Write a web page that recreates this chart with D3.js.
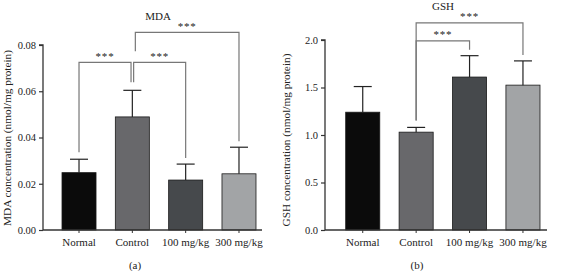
<!DOCTYPE html>
<html>
<head>
<meta charset="utf-8">
<script src="https://cdn.jsdelivr.net/npm/d3@7"></script>
<style>
	body { margin: 0; background: #fff; }
	svg text { font-family: "Liberation Serif", "DejaVu Serif", serif; fill: #222; }
</style>
</head>
<body>
<script>
// groups shared by both panels
const groups = ["Normal", "Control", "100 mg/kg", "300 mg/kg"];
const barColors = ["#0b0b0b", "#68686b", "#46494c", "#a2a4a6"];

// panel (a) MDA
const mdaMean = [0.0248, 0.0489, 0.0216, 0.0243];
const mdaErr = [0.0058, 0.0115, 0.0069, 0.0115];
const mdaTicks = [0, 0.02, 0.04, 0.06, 0.08];

// panel (b) GSH
const gshMean = [1.24, 1.03, 1.61, 1.525];
const gshErr = [0.27, 0.05, 0.225, 0.255];
const gshTicks = [0, 0.5, 1.0, 1.5, 2.0];

// significance brackets: [from, to, level (in y units), label]
const mdaSig = [["Normal", "Control", 0.0725, "***"], ["Control", "100 mg/kg", 0.0725, "***"], ["Control", "300 mg/kg", 0.0855, "***"]];
const gshSig = [["Control", "100 mg/kg", 1.99, "***"], ["Control", "300 mg/kg", 2.18, "***"]];

const svg = d3.select("body").append("svg")
	.attr("width", 561)
	.attr("height", 271);

function panel(opt) {
	let x = d3.scaleBand().domain(groups).range(opt.bars).paddingInner(0.362).paddingOuter(0);
	let y = d3.scaleLinear().domain(opt.domain).range([230, opt.top]);

	let g = svg.append("g");

	// bars
	g.selectAll("rect.bar")
		.data(groups)
		.join("rect")
			.attr("class", "bar")
			.attr("x", d => x(d))
			.attr("y", (d, i) => y(opt.mean[i]))
			.attr("width", x.bandwidth())
			.attr("height", (d, i) => y(0) - y(opt.mean[i]))
			.attr("fill", (d, i) => barColors[i])
			.attr("stroke", "#1a1a1a")
			.attr("stroke-width", 0.8);

	// error bars (upper only)
	let cx = d => x(d) + x.bandwidth() / 2;
	g.selectAll("line.err")
		.data(groups)
		.join("line")
			.attr("x1", cx).attr("x2", cx)
			.attr("y1", (d, i) => y(opt.mean[i]))
			.attr("y2", (d, i) => y(opt.mean[i] + opt.err[i]))
			.attr("stroke", "#222").attr("stroke-width", 1.2);
	g.selectAll("line.cap")
		.data(groups)
		.join("line")
			.attr("x1", d => cx(d) - 9).attr("x2", d => cx(d) + 9)
			.attr("y1", (d, i) => y(opt.mean[i] + opt.err[i]))
			.attr("y2", (d, i) => y(opt.mean[i] + opt.err[i]))
			.attr("stroke", "#222").attr("stroke-width", 1.2);

	// axes
	let yAxis = g.append("g")
		.attr("transform", `translate(${opt.x0},0)`)
		.call(d3.axisLeft(y).tickValues(opt.ticks).tickFormat(opt.fmt).tickSize(4).tickPadding(3));
	yAxis.select(".domain").attr("stroke", "#333").attr("stroke-width", 1.3).attr("d", `M-4,${y(opt.ticks[opt.ticks.length - 1])}H0V230`);
	yAxis.selectAll(".tick line").attr("stroke", "#333").attr("stroke-width", 1.2);
	yAxis.selectAll(".tick text").style("font-size", "10.5px").attr("fill", "#222");

	let xAxis = g.append("g")
		.attr("transform", "translate(0,230)")
		.call(d3.axisBottom(x).tickSize(3).tickPadding(5));
	xAxis.select(".domain").attr("stroke", "#333").attr("stroke-width", 1.3).attr("d", `M${opt.x0},0H${opt.x1}`);
	xAxis.selectAll(".tick line").attr("stroke", "#333").attr("stroke-width", 1);
	xAxis.selectAll(".tick text").style("font-size", "11px").attr("fill", "#222");

	// brackets
	let gray = "#777";
	opt.sig.forEach(([a, b, lvl, lab]) => {
		let ya = y(lvl);
		let xa = cx(a), xb = cx(b);
		let ia = groups.indexOf(a), ib = groups.indexOf(b);
		let tipA = y(opt.mean[ia] + opt.err[ia]) - 7;
		let tipB = y(opt.mean[ib] + opt.err[ib]) - 6;
		if (opt.splitCtrl) {
			if (a === "Normal") { xb -= 1.3; tipB = ya + 20; }
			else if (b === "100 mg/kg") { xa += 1.3; tipA = ya + 20; }
			else { xa += 3; tipA = ya + 19; }
		}
		g.append("path")
			.attr("d", `M${xa},${tipA}V${ya}H${xb}V${tipB}`)
			.attr("fill", "none")
			.attr("stroke", gray)
			.attr("stroke-width", 1.2);
		g.append("text")
			.attr("x", (xa + xb) / 2)
			.attr("y", ya - 2.5)
			.attr("text-anchor", "middle")
			.style("font-size", "11px")
			.style("letter-spacing", "0.8px")
			.attr("fill", "#8a8a8a")
			.text(lab);
	});

	// title, axis label, panel tag
	g.append("text")
		.attr("x", opt.titleX).attr("y", opt.titleY)
		.attr("text-anchor", "middle")
		.style("font-size", "11px")
		.text(opt.title);
	g.append("text")
		.attr("transform", `translate(${opt.labelX},${opt.labelY}) rotate(-90)`)
		.attr("text-anchor", "middle")
		.style("font-size", "11.3px")
		.text(opt.ylabel);
	g.append("text")
		.attr("x", opt.tagX).attr("y", 269)
		.attr("text-anchor", "middle")
		.style("font-size", "11px")
		.text(opt.tag);
}

panel({
	x0: 43, x1: 262, bars: [62, 256], top: 45,
	domain: [0, 0.08], ticks: mdaTicks, fmt: d3.format(".2f"),
	mean: mdaMean, err: mdaErr, sig: mdaSig, splitCtrl: true,
	title: "MDA", titleX: 158, titleY: 20,
	ylabel: "MDA concentration (nmol/mg protein)", labelX: 11, labelY: 138,
	tag: "(a)", tagX: 135
});

panel({
	x0: 325, x1: 547, bars: [345.7, 540], top: 40,
	domain: [0, 2.0], ticks: gshTicks, fmt: d3.format(".1f"),
	mean: gshMean, err: gshErr, sig: gshSig, splitCtrl: false,
	title: "GSH", titleX: 443, titleY: 10,
	ylabel: "GSH concentration (nmol/mg protein)", labelX: 290, labelY: 140,
	tag: "(b)", tagX: 417
});
</script>
</body>
</html>
